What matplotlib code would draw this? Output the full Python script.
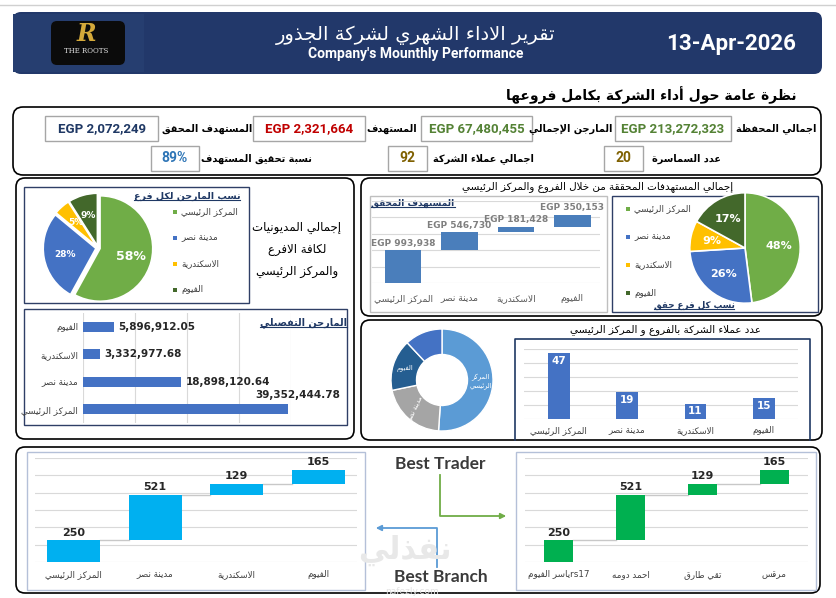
import re
import numpy as np
import matplotlib
matplotlib.use('Agg')
import matplotlib.pyplot as plt
from matplotlib.patches import FancyBboxPatch, Rectangle

plt.rcParams['font.family'] = ['DejaVu Sans']
NARROW = ['Liberation Sans Narrow', 'Roboto']

# ---- data ----
branches = ['المركز الرئيسي', 'مدينة نصر', 'الاسكندرية', 'الفيوم']
margin_share = [58, 28, 5, 9]
margin_detail = [39352444.78, 18898120.64, 3332977.68, 5896912.05]
target_done = [993938, 546730, 181428, 350153]
target_share = [48, 26, 9, 17]
clients = [47, 19, 11, 15]
donut_labels = ['المركز\nالرئيسي', 'مدينة نصر', 'الفيوم', 'الاسكندرية']
donut_values = [47, 19, 15, 11]
best_branch = [250, 521, 129, 165]
traders = ['rs17ياسر الفيوم', 'احمد دومه', 'تقي طارق', 'مرقس']
best_trader = [250, 521, 129, 165]

kpi_row1 = [('اجمالي المحفظة', 'EGP 213,272,323', '#548235'),
            ('المارجن الإجمالي', 'EGP 67,480,455', '#548235'),
            ('المستهدف', 'EGP 2,321,664', '#c00000'),
            ('المستهدف المحقق', 'EGP 2,072,249', '#1f3864')]
kpi_row2 = [('عدد السماسرة', '20', '#7f6000'),
            ('اجمالي عملاء الشركة', '92', '#7f6000'),
            ('نسبة تحقيق المستهدف', '89%', '#2e75b6')]

# ---- tiny arabic shaper (presentation forms + rtl order) ----
_tab = [('ء', 0xFE80, 1), ('آ', 0xFE81, 2), ('أ', 0xFE83, 2), ('ؤ', 0xFE85, 2),
        ('إ', 0xFE87, 2), ('ئ', 0xFE89, 4), ('ا', 0xFE8D, 2), ('ب', 0xFE8F, 4),
        ('ة', 0xFE93, 2), ('ت', 0xFE95, 4), ('ث', 0xFE99, 4), ('ج', 0xFE9D, 4),
        ('ح', 0xFEA1, 4), ('خ', 0xFEA5, 4), ('د', 0xFEA9, 2), ('ذ', 0xFEAB, 2),
        ('ر', 0xFEAD, 2), ('ز', 0xFEAF, 2), ('س', 0xFEB1, 4), ('ش', 0xFEB5, 4),
        ('ص', 0xFEB9, 4), ('ض', 0xFEBD, 4), ('ط', 0xFEC1, 4), ('ظ', 0xFEC5, 4),
        ('ع', 0xFEC9, 4), ('غ', 0xFECD, 4), ('ف', 0xFED1, 4), ('ق', 0xFED5, 4),
        ('ك', 0xFED9, 4), ('ل', 0xFEDD, 4), ('م', 0xFEE1, 4), ('ن', 0xFEE5, 4),
        ('ه', 0xFEE9, 4), ('و', 0xFEED, 2), ('ى', 0xFEEF, 2), ('ي', 0xFEF1, 4)]
FORMS = {c: [chr(s + i) for i in range(n)] for c, s, n in _tab}
LAMALEF = {'آ': (0xFEF5, 0xFEF6), 'أ': (0xFEF7, 0xFEF8),
           'إ': (0xFEF9, 0xFEFA), 'ا': (0xFEFB, 0xFEFC)}


def shape(s):
    toks = []
    i = 0
    while i < len(s):
        if s[i] == 'ل' and i + 1 < len(s) and s[i + 1] in LAMALEF:
            toks.append(('LA', s[i + 1]))
            i += 2
        else:
            toks.append(('C', s[i]))
            i += 1
    out = []
    for k, (t, c) in enumerate(toks):
        prev = toks[k - 1] if k > 0 else None
        nxt = toks[k + 1] if k + 1 < len(toks) else None
        jp = prev is not None and prev[0] == 'C' and prev[1] in FORMS and len(FORMS[prev[1]]) == 4
        if t == 'LA':
            out.append(chr(LAMALEF[c][1] if jp else LAMALEF[c][0]))
            continue
        if c not in FORMS:
            out.append(c)
            continue
        f = FORMS[c]
        if len(f) == 1:
            out.append(f[0])
            continue
        jn = len(f) == 4 and nxt is not None and (nxt[0] == 'LA' or nxt[1] in FORMS)
        if jp and jn:
            out.append(f[3])
        elif jp:
            out.append(f[1])
        elif jn:
            out.append(f[2])
        else:
            out.append(f[0])
    return ''.join(out)


def ar(s):
    lines = []
    for line in s.split('\n'):
        v = shape(line)[::-1]
        v = re.sub(r'[A-Za-z0-9.,%]+', lambda m: m.group(0)[::-1], v)
        lines.append(v)
    return '\n'.join(lines)


# ---- figure in pixel coordinates ----
W, H = 836, 598
fig = plt.figure(figsize=(W / 100, H / 100), dpi=100)
fig.patch.set_facecolor('white')
bg = fig.add_axes([0, 0, 1, 1])
bg.set_xlim(0, W)
bg.set_ylim(H, 0)
bg.axis('off')


def box(x0, y0, x1, y1):
    a = fig.add_axes([x0 / W, 1 - y1 / H, (x1 - x0) / W, (y1 - y0) / H])
    a.patch.set_alpha(0)
    return a


def panel(x0, y0, x1, y1, r=9, ec='black', fc='white', lw=1.2):
    bg.add_patch(FancyBboxPatch((x0, y0), x1 - x0, y1 - y0,
                                boxstyle=f'round,pad=0,rounding_size={r}',
                                ec=ec, fc=fc, lw=lw))


def rect(x0, y0, x1, y1, ec='#a6a6a6', lw=1, fc='white'):
    bg.add_patch(Rectangle((x0, y0), x1 - x0, y1 - y0, ec=ec, fc=fc, lw=lw))


underlined = []


def utext(x, y, s, **kw):
    t = bg.text(x, y, s, **kw)
    underlined.append(t)
    return t


# top line + header
bg.plot([0, W], [5, 5], color='#d0d0d0', lw=1)
panel(13, 12, 822, 74, r=8, ec='none', fc='#22386a', lw=0)
bg.add_patch(Rectangle((13, 14), 131, 58, fc='#263e70', ec='none'))
panel(51, 21, 125, 65, r=6, ec='none', fc='#0b0b0b', lw=0)
bg.text(86, 34, 'R', color='#d4a93a', fontsize=17, family='DejaVu Serif',
        style='italic', fontweight='bold', ha='center', va='center')
bg.text(86, 51, 'THE ROOTS', color='#e0e0e0', fontsize=5, family='DejaVu Serif',
        ha='center', va='center')
bg.text(416, 35, ar('تقرير الاداء الشهري لشركة الجذور'), color='white',
        fontsize=14, ha='center', va='center')
bg.text(416, 54, "Company's Mounthly Performance", color='white', fontsize=10,
        family=NARROW, fontweight='bold', ha='center', va='center')
bg.text(731, 44, '13-Apr-2026', color='white', fontsize=16,
        family=NARROW, fontweight='bold', ha='center', va='center')

bg.text(797, 95, ar('نظرة عامة حول أداء الشركة بكامل فروعها'), fontsize=10,
        fontweight='bold', ha='right', va='center')

# KPI panel
panel(13, 107, 821, 175, r=10)
row1_boxes = [(615, 731), (421, 532), (253, 365), (45, 158)]
row1_labels = [776, 571, 392, 207]
for (lab, val, col), (bx0, bx1), lx in zip(kpi_row1, row1_boxes, row1_labels):
    rect(bx0, 116, bx1, 141)
    bg.text((bx0 + bx1) / 2, 128.5, val, color=col, fontsize=9.5, fontweight='bold',
            family=NARROW, ha='center', va='center')
    bg.text(lx, 129, ar(lab), fontsize=7, fontweight='bold', ha='center', va='center')
row2_boxes = [(604, 643), (388, 427), (151, 199)]
row2_labels = [687, 483, 256]
for (lab, val, col), (bx0, bx1), lx in zip(kpi_row2, row2_boxes, row2_labels):
    rect(bx0, 146, bx1, 171)
    bg.text((bx0 + bx1) / 2, 158.5, val, color=col, fontsize=10, fontweight='bold',
            family=NARROW, ha='center', va='center')
    bg.text(lx, 159, ar(lab), fontsize=7, fontweight='bold', ha='center', va='center')

# panels
panel(16, 178, 354, 439)
panel(361, 178, 822, 316)
panel(361, 320, 822, 440)
panel(16, 447, 820, 593)

pie_cols = ['#70ad47', '#4472c4', '#ffc000', '#43682b']

# ---- left: margin share pie ----
rect(24, 187, 249, 303, ec='#2f3f66')
ax = box(40, 190, 156, 306)
w, _, pcts = ax.pie(margin_share, colors=pie_cols, startangle=90, counterclock=False,
                    explode=[0.04] * 4, autopct=lambda p: f'{p:.0f}%', pctdistance=0.6,
                    wedgeprops=dict(ec='white', lw=1.2),
                    textprops=dict(color='white', fontsize=6.5, fontweight='bold'))
pcts[0].set_fontsize(9)
ax.set_xlim(-1.1, 1.1)
ax.set_ylim(-1.1, 1.1)
utext(187, 196, ar('نسب المارجن لكل فرع'), fontsize=6.8, fontweight='bold',
      color='#1f3864', ha='center', va='center')
for i, (b, c) in enumerate(zip(branches, pie_cols)):
    y = 212 + i * 26
    bg.add_patch(Rectangle((173, y - 2), 4, 4, fc=c, ec='none'))
    bg.text(181, y, ar(b), fontsize=6.3, color='#404040', ha='left', va='center')

for i, line in enumerate(['إجمالي المديونيات', 'لكافة الافرع', 'والمركز الرئيسي']):
    bg.text(297, 228 + i * 22, ar(line), fontsize=8.5, ha='center', va='center')

# ---- left: detailed margin bars ----
rect(24, 309, 347, 425, ec='#2f3f66')
ax = box(83, 313, 291, 423)
ypos = np.arange(len(branches))
ax.barh(ypos, margin_detail, height=0.36, color='#4472c4', zorder=3)
ax.set_xlim(0, 40e6)
ax.set_ylim(-0.5, 3.5)
ax.set_xticks([0, 10e6, 20e6, 30e6, 40e6])
ax.grid(axis='x', color='#d9d9d9', lw=0.8)
ax.tick_params(length=0, labelbottom=False)
ax.set_yticks(ypos)
ax.set_yticklabels([ar(b) for b in branches], fontsize=6.3, color='#404040')
for s in ax.spines.values():
    s.set_visible(False)
for i, v in enumerate(margin_detail):
    if v > 30e6:
        ax.annotate(f'{v:,.2f}', (v, i), xytext=(7, 10), textcoords='offset points',
                    ha='center', va='center', fontsize=7.5, fontweight='bold', color='#262626')
    else:
        ax.annotate(f'{v:,.2f}', (v, i), xytext=(3, 0), textcoords='offset points',
                    ha='left', va='center', fontsize=7.5, fontweight='bold', color='#262626')
utext(303, 323, ar('المارجن التفصيلي'), fontsize=7, fontweight='bold',
      color='#1f3864', ha='center', va='center')

# ---- right top: targets achieved ----
bg.text(598, 187, ar('إجمالي المستهدفات المحققة من خلال الفروع والمركز الرئيسي'),
        fontsize=7.5, ha='center', va='center')
rect(370, 196, 607, 312, ec='#bfbfbf')
ax = box(372, 201, 600, 283)
bottoms = np.concatenate([[0], np.cumsum(target_done)[:-1]])
xp = np.arange(len(branches))
ax.bar(xp, target_done, bottom=bottoms, width=0.65, color='#4a7ebb', zorder=3)
for x, b, v in zip(xp, bottoms, target_done):
    ax.annotate(f'EGP {v:,}', (x, b + v), xytext=(0, 2), textcoords='offset points',
                ha='center', va='bottom', fontsize=6.5, fontweight='bold', color='#7f7f7f')
ax.set_ylim(0, 2.5e6)
ax.set_xlim(-0.55, 3.49)
ax.set_yticks(np.arange(0, 2.51e6, 0.5e6))
ax.grid(axis='y', color='#d9d9d9', lw=0.8)
ax.tick_params(length=0, labelleft=False, pad=8)
ax.set_xticks(xp)
ax.set_xticklabels([ar(b) for b in branches], fontsize=6.6, color='#595959')
for s in ax.spines.values():
    s.set_visible(False)
utext(413, 203, ar('المستهدف المحقق'), fontsize=6.5, fontweight='bold',
      color='#1f3864', ha='center', va='center')

rect(612, 196, 818, 312, ec='#2f3f66')
ax = box(687, 190, 803, 306)
ax.pie(target_share, colors=pie_cols, startangle=90, counterclock=False,
       autopct=lambda p: f'{p:.0f}%', pctdistance=0.62,
       wedgeprops=dict(ec='white', lw=1.2),
       textprops=dict(color='white', fontsize=8, fontweight='bold'))
ax.set_xlim(-1.05, 1.05)
ax.set_ylim(-1.05, 1.05)
for i, (b, c) in enumerate(zip(branches, pie_cols)):
    y = 209 + i * 28
    bg.add_patch(Rectangle((626, y - 2), 4, 4, fc=c, ec='none'))
    bg.text(634, y, ar(b), fontsize=6.3, color='#404040', ha='left', va='center')
utext(694, 305, ar('نسب كل فرع حقق'), fontsize=6.3, fontweight='bold',
      color='#1f3864', ha='center', va='center')

# ---- right middle: clients ----
ax = box(391, 329, 493, 431)
wd, _ = ax.pie(donut_values, colors=['#5b9bd5', '#a5a5a5', '#255e91', '#4472c4'],
               startangle=90, counterclock=False,
               wedgeprops=dict(width=0.5, ec='white', lw=1))
for wg, lab in zip(wd[:3], donut_labels[:3]):
    th = np.deg2rad((wg.theta1 + wg.theta2) / 2)
    ax.text(0.76 * np.cos(th), 0.76 * np.sin(th), ar(lab), color='white', fontsize=4.8,
            ha='center', va='center', rotation=65 if lab == 'مدينة نصر' else 0)
ax.set_xlim(-1, 1)
ax.set_ylim(-1, 1)

bg.text(665, 330, ar('عدد عملاء الشركة بالفروع و المركز الرئيسي'), fontsize=7.5,
        ha='center', va='center')
bg.plot([515, 515, 810, 810], [440, 339, 339, 440], color='#1f3864', lw=1.2)
ax = box(524, 349, 798, 419)
ax.bar(xp, clients, width=0.32, color='#4472c4', zorder=3)
for x, v in zip(xp, clients):
    ax.text(x, v - 5.5, str(v), color='white', fontsize=7.5, fontweight='bold',
            ha='center', va='center', zorder=4)
ax.set_ylim(0, 50)
ax.set_xlim(-0.51, 3.5)
ax.set_yticks(range(0, 51, 10))
ax.grid(axis='y', color='#d9d9d9', lw=0.8)
ax.tick_params(length=0, labelleft=False, pad=5)
ax.set_xticks(xp)
ax.set_xticklabels([ar(b) for b in branches], fontsize=6.3, color='#404040')
for s in ax.spines.values():
    s.set_visible(False)


# ---- bottom: best branch / best trader ----
def waterfall(ax, vals, labels, color, width):
    bt = np.concatenate([[0], np.cumsum(vals)[:-1]])
    xs = np.arange(len(vals))
    ax.bar(xs, vals, bottom=bt, width=width, color=color, zorder=3)
    for i in range(len(vals) - 1):
        ax.plot([xs[i] + width / 2, xs[i + 1] - width / 2], [bt[i] + vals[i]] * 2,
                color='#c8c8c8', lw=1, zorder=2)
    for x, b, v in zip(xs, bt, vals):
        ax.annotate(str(v), (x, b + v), xytext=(0, 2), textcoords='offset points',
                    ha='center', va='bottom', fontsize=8, fontweight='bold', color='#262626')
    ax.set_ylim(0, 1200)
    ax.set_xlim(-0.47, 3.47)
    ax.set_yticks(range(0, 1201, 200))
    ax.grid(axis='y', color='#d9d9d9', lw=0.8)
    ax.tick_params(length=0, labelleft=False, pad=6)
    ax.set_xticks(xs)
    ax.set_xticklabels([ar(l) for l in labels], fontsize=6.3, color='#404040')
    for s in ax.spines.values():
        s.set_visible(False)


rect(27, 452, 365, 590, ec='#b4c0d8')
waterfall(box(35, 458, 357, 562), best_branch, branches, '#00b0f0', 0.65)
rect(516, 452, 816, 590, ec='#b4c0d8')
waterfall(box(525, 458, 808, 562), best_trader, traders, '#00b050', 0.4)

bg.text(405, 550, ar('نفذلي'), fontsize=22, fontweight='bold', color='#e8e8e8',
        ha='center', va='center')
bg.text(412, 592, 'nafezly.com', fontsize=6.5, color='#e3e3e3', ha='center', va='center')

bg.text(440, 464, 'Best Trader', fontsize=12.5, fontweight='bold', color='#3a3a3a',
        family=['Lato', 'DejaVu Sans'], ha='center', va='center')
bg.text(441, 577, 'Best Branch', fontsize=12.5, fontweight='bold', color='#3a3a3a',
        family=['Lato', 'DejaVu Sans'], ha='center', va='center')
bg.plot([440, 440, 500], [475, 516, 516], color='#70ad47', lw=1.3)
bg.annotate('', xy=(509, 516), xytext=(498, 516),
            arrowprops=dict(arrowstyle='-|>', color='#70ad47', lw=1.3, mutation_scale=8))
bg.plot([437, 437, 382], [567, 528, 528], color='#5b9bd5', lw=1.3)
bg.annotate('', xy=(373, 528), xytext=(384, 528),
            arrowprops=dict(arrowstyle='-|>', color='#5b9bd5', lw=1.3, mutation_scale=8))

# underline the small chart titles
fig.canvas.draw()
inv = bg.transData.inverted()
for t in underlined:
    bb = t.get_window_extent()
    (x0, y0), (x1, _) = inv.transform([[bb.x0, bb.y0], [bb.x1, bb.y1]])
    bg.plot([x0, x1], [y0 - 1, y0 - 1], color=t.get_color(), lw=0.8)

fig.savefig('out.png', dpi=100)
